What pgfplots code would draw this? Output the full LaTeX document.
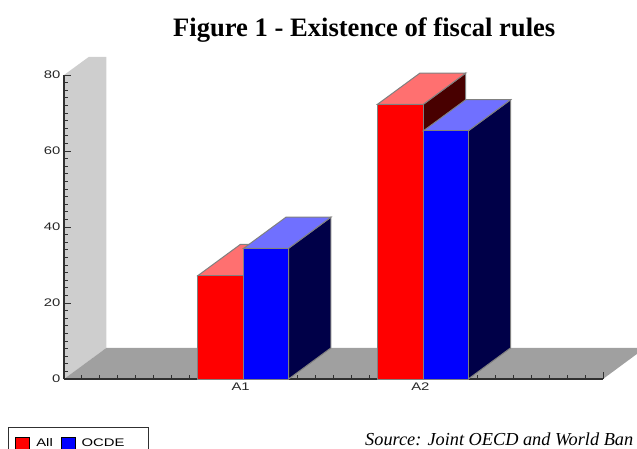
\documentclass[border=0pt]{standalone}
\usepackage{fontspec}
\setmainfont{Liberation Serif}
\newfontfamily\chartfont[FakeStretch=1.35]{Liberation Sans}
\usepackage{pgfplots}
\pgfplotsset{compat=1.18}
\definecolor{wallgray}{HTML}{CECECE}
\definecolor{floorgray}{HTML}{A0A0A0}
\definecolor{edgegray}{HTML}{808080}
\definecolor{axisdark}{HTML}{303030}
\definecolor{redtop}{HTML}{FF7070}
\definecolor{redside}{HTML}{480000}
\definecolor{bluetop}{HTML}{7070FF}
\definecolor{blueside}{HTML}{000048}
\pgfplotsset{
    face/.style={draw=edgegray, line width=1pt, line join=miter, forget plot, mark=none},
    back/.style={draw=none, forget plot, mark=none, on layer=axis background},
}
\begin{document}
\begin{tikzpicture}[x=1pt,y=1pt]
    \begin{axis}[
            set layers,
            scale only axis,
            at={(64pt,69pt)},
            anchor=south west,
            width=539pt,
            height=304pt,
            xmin=0, xmax=3,
            ymin=0, ymax=80,
            clip=false,
            axis x line=bottom,
            axis y line=left,
            axis line style={-, color=axisdark, line width=1.2pt},
            tick align=inside,
            tick style={color=axisdark, line width=1pt},
            major tick length=7pt,
            minor tick length=4pt,
            xtick={0,1,2,3},
            xticklabels={,A1,A2,},
            ytick={0,20,40,60,80},
            minor x tick num=9,
            minor y tick num=9,
            tick label style={font=\chartfont\fontsize{11}{13}\selectfont, color=black!85},
            x tick label style={yshift=0pt, xshift=-3pt},
            y tick label style={xshift=0pt},
            /pgf/number format/assume math mode=true,
            title={\bfseries Figure 1 - Existence of fiscal rules},
            title style={font=\fontsize{26.6}{30}\selectfont, at={(0.557,1.108)}, anchor=base},
            legend columns=2,
            legend cell align=left,
            legend style={
                at={(-0.1039,-0.158)}, anchor=north west,
                draw=axisdark, line width=1pt,
                inner xsep=7pt, inner ysep=9pt,
                font=\chartfont\fontsize{11}{13}\selectfont,
                /tikz/every even column/.append style={column sep=6pt},
            },
            legend image code/.code={
                \draw[#1, draw=black, line width=0.8pt] (0pt,-6pt) rectangle (14pt,6pt);
            },
        ]
        % wall and floor, depth is 0.236 in x and 8.2 in y
        \addplot[back, fill=wallgray] coordinates {(0,0) (0.236,8.2) (0.236,84.8) (0.139,84.8) (0,80)} -- cycle;
        \addplot[back, fill=floorgray] coordinates {(0,0) (0.236,8.2) (3.189,8.2) (3.189,6.6) (3,0)} -- cycle;

        % A1 All
        \addplot[face, fill=redside] coordinates {(1,27.2) (1.236,35.4) (1.236,8.2) (1,0)} -- cycle;
        \addplot[face, fill=redtop] coordinates {(0.745,27.2) (0.981,35.4) (1.236,35.4) (1,27.2)} -- cycle;
        \addplot[face, fill=red] coordinates {(0.745,0) (0.745,27.2) (1,27.2) (1,0)} -- cycle;
        % A1 OCDE
        \addplot[face, fill=blueside] coordinates {(1.25,34.4) (1.486,42.6) (1.486,8.2) (1.25,0)} -- cycle;
        \addplot[face, fill=bluetop] coordinates {(1,34.4) (1.236,42.6) (1.486,42.6) (1.25,34.4)} -- cycle;
        \addplot[face, fill=blue] coordinates {(1,0) (1,34.4) (1.25,34.4) (1.25,0)} -- cycle;
        % A2 All
        \addplot[face, fill=redside] coordinates {(2,72.3) (2.236,80.5) (2.236,8.2) (2,0)} -- cycle;
        \addplot[face, fill=redtop] coordinates {(1.745,72.3) (1.981,80.5) (2.236,80.5) (2,72.3)} -- cycle;
        \addplot[face, fill=red] coordinates {(1.745,0) (1.745,72.3) (2,72.3) (2,0)} -- cycle;
        % A2 OCDE
        \addplot[face, fill=blueside] coordinates {(2.25,65.3) (2.486,73.5) (2.486,8.2) (2.25,0)} -- cycle;
        \addplot[face, fill=bluetop] coordinates {(2,65.3) (2.236,73.5) (2.486,73.5) (2.25,65.3)} -- cycle;
        \addplot[face, fill=blue] coordinates {(2,0) (2,65.3) (2.25,65.3) (2.25,0)} -- cycle;

        \addlegendimage{fill=red}
        \addlegendentry{\hspace*{4pt}All}
        \addlegendimage{fill=blue}
        \addlegendentry{\hspace*{4pt}OCDE\hspace*{15pt}}
    \end{axis}
    \node[anchor=base west, inner sep=0pt, font=\itshape\fontsize{18.3}{21}\selectfont] at (365,3) {Source: Joint OECD and World Ban};
    \pgfresetboundingbox
    \path[use as bounding box] (0,0) rectangle (637,448);
\end{tikzpicture}
\end{document}
